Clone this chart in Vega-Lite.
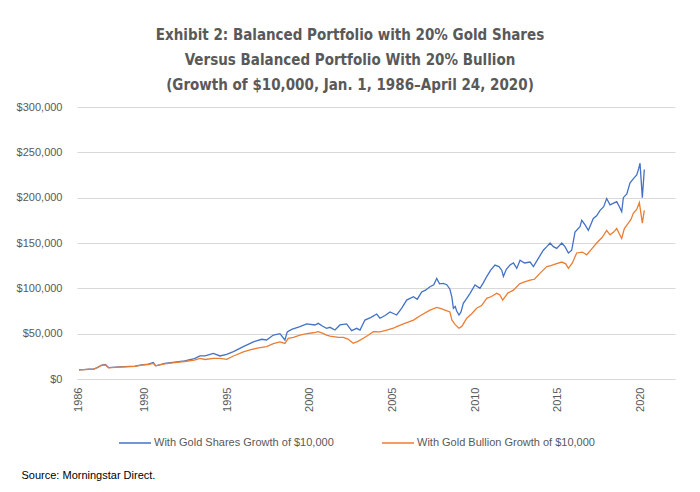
{
  "$schema": "https://vega.github.io/schema/vega-lite/v6.json",
  "width": 598,
  "height": 272,
  "autosize": {"type": "none"},
  "padding": {"left": 77, "top": 107, "right": 25, "bottom": 113},
  "background": "white",
  "config": {"view": {"stroke": null}},
  "title": {
    "text": ["Exhibit 2: Balanced Portfolio with 20% Gold Shares", "Versus Balanced Portfolio With 20% Bullion", "(Growth of $10,000, Jan. 1, 1986–April 24, 2020)"],
    "anchor": "middle",
    "frame": "group",
    "dx": -26,
    "font": "Liberation Sans Narrow, DejaVu Sans Condensed, sans-serif",
    "fontWeight": "bold",
    "fontSize": 15,
    "color": "#595959",
    "lineHeight": 25,
    "offset": 8
  },
  "data": {
    "values": [
      {"t": 1986.0, "s": "G1", "v": 10000},
      {"t": 1986.3, "s": "G1", "v": 10400},
      {"t": 1986.6, "s": "G1", "v": 10900},
      {"t": 1986.9, "s": "G1", "v": 11000},
      {"t": 1987.1, "s": "G1", "v": 12600},
      {"t": 1987.38, "s": "G1", "v": 15400},
      {"t": 1987.6, "s": "G1", "v": 16000},
      {"t": 1987.8, "s": "G1", "v": 12500},
      {"t": 1988.2, "s": "G1", "v": 13000},
      {"t": 1988.8, "s": "G1", "v": 13600},
      {"t": 1989.4, "s": "G1", "v": 14300},
      {"t": 1989.8, "s": "G1", "v": 15600},
      {"t": 1990.2, "s": "G1", "v": 16500},
      {"t": 1990.5, "s": "G1", "v": 18300},
      {"t": 1990.65, "s": "G1", "v": 14600},
      {"t": 1991.2, "s": "G1", "v": 17200},
      {"t": 1991.8, "s": "G1", "v": 18600},
      {"t": 1992.4, "s": "G1", "v": 20000},
      {"t": 1993.0, "s": "G1", "v": 22600},
      {"t": 1993.33, "s": "G1", "v": 25400},
      {"t": 1993.64, "s": "G1", "v": 25500},
      {"t": 1994.14, "s": "G1", "v": 28300},
      {"t": 1994.55, "s": "G1", "v": 25400},
      {"t": 1994.95, "s": "G1", "v": 27200},
      {"t": 1995.36, "s": "G1", "v": 30200},
      {"t": 1995.96, "s": "G1", "v": 35700},
      {"t": 1996.57, "s": "G1", "v": 41000},
      {"t": 1997.07, "s": "G1", "v": 43800},
      {"t": 1997.37, "s": "G1", "v": 43000},
      {"t": 1997.78, "s": "G1", "v": 48500},
      {"t": 1998.18, "s": "G1", "v": 50000},
      {"t": 1998.48, "s": "G1", "v": 43000},
      {"t": 1998.62, "s": "G1", "v": 52000},
      {"t": 1998.89, "s": "G1", "v": 54800},
      {"t": 1999.39, "s": "G1", "v": 57700},
      {"t": 1999.8, "s": "G1", "v": 60700},
      {"t": 2000.3, "s": "G1", "v": 59600},
      {"t": 2000.5, "s": "G1", "v": 61400},
      {"t": 2000.75, "s": "G1", "v": 58500},
      {"t": 2001.0, "s": "G1", "v": 55900},
      {"t": 2001.21, "s": "G1", "v": 57000},
      {"t": 2001.51, "s": "G1", "v": 54000},
      {"t": 2001.82, "s": "G1", "v": 59600},
      {"t": 2002.22, "s": "G1", "v": 60700},
      {"t": 2002.52, "s": "G1", "v": 53300},
      {"t": 2002.83, "s": "G1", "v": 55900},
      {"t": 2003.03, "s": "G1", "v": 54000},
      {"t": 2003.33, "s": "G1", "v": 65000},
      {"t": 2003.7, "s": "G1", "v": 68000},
      {"t": 2004.04, "s": "G1", "v": 71700},
      {"t": 2004.24, "s": "G1", "v": 67000},
      {"t": 2004.55, "s": "G1", "v": 70000},
      {"t": 2004.85, "s": "G1", "v": 74000},
      {"t": 2005.25, "s": "G1", "v": 70600},
      {"t": 2005.55, "s": "G1", "v": 78000},
      {"t": 2005.86, "s": "G1", "v": 87000},
      {"t": 2006.27, "s": "G1", "v": 90800},
      {"t": 2006.5, "s": "G1", "v": 88000},
      {"t": 2006.77, "s": "G1", "v": 96000},
      {"t": 2007.0, "s": "G1", "v": 98000},
      {"t": 2007.27, "s": "G1", "v": 101800},
      {"t": 2007.5, "s": "G1", "v": 104000},
      {"t": 2007.68, "s": "G1", "v": 111000},
      {"t": 2007.85, "s": "G1", "v": 105000},
      {"t": 2008.08, "s": "G1", "v": 105500},
      {"t": 2008.29, "s": "G1", "v": 104000},
      {"t": 2008.48, "s": "G1", "v": 99000},
      {"t": 2008.6, "s": "G1", "v": 90000},
      {"t": 2008.69, "s": "G1", "v": 78000},
      {"t": 2008.8, "s": "G1", "v": 80000},
      {"t": 2008.89, "s": "G1", "v": 75000},
      {"t": 2009.03, "s": "G1", "v": 70600},
      {"t": 2009.15, "s": "G1", "v": 74000},
      {"t": 2009.29, "s": "G1", "v": 83500},
      {"t": 2009.5, "s": "G1", "v": 89000},
      {"t": 2009.7, "s": "G1", "v": 94500},
      {"t": 2010.0, "s": "G1", "v": 103700},
      {"t": 2010.3, "s": "G1", "v": 100000},
      {"t": 2010.5, "s": "G1", "v": 106000},
      {"t": 2010.71, "s": "G1", "v": 113000},
      {"t": 2010.95, "s": "G1", "v": 120000},
      {"t": 2011.21, "s": "G1", "v": 125700},
      {"t": 2011.45, "s": "G1", "v": 124000},
      {"t": 2011.62, "s": "G1", "v": 120000},
      {"t": 2011.72, "s": "G1", "v": 113000},
      {"t": 2011.9, "s": "G1", "v": 121000},
      {"t": 2012.12, "s": "G1", "v": 125700},
      {"t": 2012.33, "s": "G1", "v": 128000},
      {"t": 2012.53, "s": "G1", "v": 122000},
      {"t": 2012.73, "s": "G1", "v": 131000},
      {"t": 2013.0, "s": "G1", "v": 128000},
      {"t": 2013.34, "s": "G1", "v": 129000},
      {"t": 2013.54, "s": "G1", "v": 124000},
      {"t": 2013.8, "s": "G1", "v": 132000},
      {"t": 2014.14, "s": "G1", "v": 142000},
      {"t": 2014.35, "s": "G1", "v": 146000},
      {"t": 2014.55, "s": "G1", "v": 150000},
      {"t": 2014.75, "s": "G1", "v": 146000},
      {"t": 2014.95, "s": "G1", "v": 144000},
      {"t": 2015.26, "s": "G1", "v": 150000},
      {"t": 2015.45, "s": "G1", "v": 146000},
      {"t": 2015.66, "s": "G1", "v": 139000},
      {"t": 2015.86, "s": "G1", "v": 142000},
      {"t": 2016.06, "s": "G1", "v": 162000},
      {"t": 2016.36, "s": "G1", "v": 168000},
      {"t": 2016.47, "s": "G1", "v": 175000},
      {"t": 2016.67, "s": "G1", "v": 170000},
      {"t": 2016.87, "s": "G1", "v": 164000},
      {"t": 2017.17, "s": "G1", "v": 177000},
      {"t": 2017.37, "s": "G1", "v": 180000},
      {"t": 2017.58, "s": "G1", "v": 186000},
      {"t": 2017.8, "s": "G1", "v": 190000},
      {"t": 2017.98, "s": "G1", "v": 199000},
      {"t": 2018.18, "s": "G1", "v": 192000},
      {"t": 2018.4, "s": "G1", "v": 194000},
      {"t": 2018.59, "s": "G1", "v": 195600},
      {"t": 2018.75, "s": "G1", "v": 190000},
      {"t": 2018.89, "s": "G1", "v": 184500},
      {"t": 2018.99, "s": "G1", "v": 200000},
      {"t": 2019.2, "s": "G1", "v": 204000},
      {"t": 2019.39, "s": "G1", "v": 216000},
      {"t": 2019.6, "s": "G1", "v": 221000},
      {"t": 2019.8, "s": "G1", "v": 225000},
      {"t": 2019.92, "s": "G1", "v": 232000},
      {"t": 2020.0, "s": "G1", "v": 238000},
      {"t": 2020.14, "s": "G1", "v": 200000},
      {"t": 2020.26, "s": "G1", "v": 231000},
      {"t": 1986.0, "s": "G2", "v": 10000},
      {"t": 1986.3, "s": "G2", "v": 10300},
      {"t": 1986.6, "s": "G2", "v": 10700},
      {"t": 1986.9, "s": "G2", "v": 10900},
      {"t": 1987.1, "s": "G2", "v": 12400},
      {"t": 1987.38, "s": "G2", "v": 15000},
      {"t": 1987.6, "s": "G2", "v": 15600},
      {"t": 1987.8, "s": "G2", "v": 12300},
      {"t": 1988.2, "s": "G2", "v": 12800},
      {"t": 1988.8, "s": "G2", "v": 13400},
      {"t": 1989.4, "s": "G2", "v": 14000},
      {"t": 1989.8, "s": "G2", "v": 15200},
      {"t": 1990.2, "s": "G2", "v": 16000},
      {"t": 1990.5, "s": "G2", "v": 17200},
      {"t": 1990.65, "s": "G2", "v": 14500},
      {"t": 1991.2, "s": "G2", "v": 16600},
      {"t": 1991.8, "s": "G2", "v": 18000},
      {"t": 1992.4, "s": "G2", "v": 19300},
      {"t": 1993.0, "s": "G2", "v": 20800},
      {"t": 1993.33, "s": "G2", "v": 22800},
      {"t": 1993.64, "s": "G2", "v": 21500},
      {"t": 1994.14, "s": "G2", "v": 22800},
      {"t": 1994.55, "s": "G2", "v": 22800},
      {"t": 1994.95, "s": "G2", "v": 21700},
      {"t": 1995.36, "s": "G2", "v": 25400},
      {"t": 1995.96, "s": "G2", "v": 30000},
      {"t": 1996.37, "s": "G2", "v": 32000},
      {"t": 1996.8, "s": "G2", "v": 34000},
      {"t": 1997.37, "s": "G2", "v": 35700},
      {"t": 1997.78, "s": "G2", "v": 39000},
      {"t": 1998.18, "s": "G2", "v": 41000},
      {"t": 1998.48, "s": "G2", "v": 39300},
      {"t": 1998.68, "s": "G2", "v": 44900},
      {"t": 1999.0, "s": "G2", "v": 46000},
      {"t": 1999.39, "s": "G2", "v": 48500},
      {"t": 1999.8, "s": "G2", "v": 50000},
      {"t": 2000.2, "s": "G2", "v": 51000},
      {"t": 2000.5, "s": "G2", "v": 52200},
      {"t": 2000.75, "s": "G2", "v": 50500},
      {"t": 2001.0, "s": "G2", "v": 48500},
      {"t": 2001.21, "s": "G2", "v": 47400},
      {"t": 2001.72, "s": "G2", "v": 46000},
      {"t": 2002.02, "s": "G2", "v": 46000},
      {"t": 2002.3, "s": "G2", "v": 44000},
      {"t": 2002.62, "s": "G2", "v": 39400},
      {"t": 2002.9, "s": "G2", "v": 41500},
      {"t": 2003.23, "s": "G2", "v": 44900},
      {"t": 2003.5, "s": "G2", "v": 48000},
      {"t": 2003.84, "s": "G2", "v": 52200},
      {"t": 2004.24, "s": "G2", "v": 52000},
      {"t": 2004.65, "s": "G2", "v": 54000},
      {"t": 2005.05, "s": "G2", "v": 56000},
      {"t": 2005.25, "s": "G2", "v": 57700},
      {"t": 2005.7, "s": "G2", "v": 61000},
      {"t": 2006.27, "s": "G2", "v": 65000},
      {"t": 2006.7, "s": "G2", "v": 70000},
      {"t": 2007.27, "s": "G2", "v": 76000},
      {"t": 2007.68, "s": "G2", "v": 79000},
      {"t": 2007.95, "s": "G2", "v": 77500},
      {"t": 2008.18, "s": "G2", "v": 76000},
      {"t": 2008.48, "s": "G2", "v": 74000},
      {"t": 2008.6, "s": "G2", "v": 65000},
      {"t": 2008.8, "s": "G2", "v": 60000},
      {"t": 2009.03, "s": "G2", "v": 56000},
      {"t": 2009.2, "s": "G2", "v": 58000},
      {"t": 2009.5, "s": "G2", "v": 67000},
      {"t": 2009.8, "s": "G2", "v": 72000},
      {"t": 2010.1, "s": "G2", "v": 78000},
      {"t": 2010.4, "s": "G2", "v": 81000},
      {"t": 2010.71, "s": "G2", "v": 89000},
      {"t": 2011.0, "s": "G2", "v": 91000},
      {"t": 2011.31, "s": "G2", "v": 94500},
      {"t": 2011.5, "s": "G2", "v": 93000},
      {"t": 2011.68, "s": "G2", "v": 87000},
      {"t": 2012.0, "s": "G2", "v": 95000},
      {"t": 2012.33, "s": "G2", "v": 98000},
      {"t": 2012.7, "s": "G2", "v": 105000},
      {"t": 2013.0, "s": "G2", "v": 107000},
      {"t": 2013.34, "s": "G2", "v": 109000},
      {"t": 2013.6, "s": "G2", "v": 110000},
      {"t": 2013.9, "s": "G2", "v": 116000},
      {"t": 2014.35, "s": "G2", "v": 124000},
      {"t": 2014.6, "s": "G2", "v": 125000},
      {"t": 2014.9, "s": "G2", "v": 127000},
      {"t": 2015.26, "s": "G2", "v": 129000},
      {"t": 2015.5, "s": "G2", "v": 127000},
      {"t": 2015.66, "s": "G2", "v": 122000},
      {"t": 2015.9, "s": "G2", "v": 128000},
      {"t": 2016.16, "s": "G2", "v": 139000},
      {"t": 2016.5, "s": "G2", "v": 140000},
      {"t": 2016.77, "s": "G2", "v": 137000},
      {"t": 2017.05, "s": "G2", "v": 143000},
      {"t": 2017.37, "s": "G2", "v": 150000},
      {"t": 2017.7, "s": "G2", "v": 156000},
      {"t": 2017.98, "s": "G2", "v": 164000},
      {"t": 2018.18, "s": "G2", "v": 159000},
      {"t": 2018.4, "s": "G2", "v": 162000},
      {"t": 2018.59, "s": "G2", "v": 166000},
      {"t": 2018.75, "s": "G2", "v": 160000},
      {"t": 2018.89, "s": "G2", "v": 155000},
      {"t": 2019.05, "s": "G2", "v": 166000},
      {"t": 2019.29, "s": "G2", "v": 172000},
      {"t": 2019.45, "s": "G2", "v": 176000},
      {"t": 2019.6, "s": "G2", "v": 183000},
      {"t": 2019.8, "s": "G2", "v": 187000},
      {"t": 2019.96, "s": "G2", "v": 194500},
      {"t": 2020.14, "s": "G2", "v": 172000},
      {"t": 2020.26, "s": "G2", "v": 186000}
    ]
  },
  "mark": {"type": "line", "strokeWidth": 1.3},
  "encoding": {
    "x": {
      "field": "t",
      "type": "quantitative",
      "scale": {"domain": [1985.88, 2022.12], "nice": false, "zero": false},
      "axis": {
        "values": [1986, 1990, 1995, 2000, 2005, 2010, 2015, 2020],
        "format": "d",
        "labelAngle": -90,
        "labelFont": "Liberation Sans, Arial, sans-serif",
        "labelFontSize": 11,
        "labelColor": "#595959",
        "labelPadding": 8,
        "grid": false,
        "ticks": false,
        "domain": true,
        "domainColor": "#D9D9D9",
        "domainWidth": 1,
        "title": "Source: Morningstar Direct.",
        "titleFont": "Liberation Sans, Arial, sans-serif",
        "titleFontSize": 11,
        "titleFontWeight": "normal",
        "titleColor": "#000000",
        "titleAnchor": "start",
        "titleAlign": "left",
        "titleBaseline": "alphabetic",
        "titleX": -56,
        "titleY": 99
      }
    },
    "y": {
      "field": "v",
      "type": "quantitative",
      "scale": {"domain": [0, 300000], "nice": false},
      "axis": {
        "values": [0, 50000, 100000, 150000, 200000, 250000, 300000],
        "format": "$,d",
        "labelFont": "Liberation Sans, Arial, sans-serif",
        "labelFontSize": 11,
        "labelColor": "#595959",
        "labelPadding": 15,
        "grid": true,
        "gridColor": "#D9D9D9",
        "gridWidth": 1,
        "domain": false,
        "ticks": false,
        "title": null
      }
    },
    "color": {
      "field": "s",
      "type": "nominal",
      "scale": {"domain": ["G1", "G2"], "range": ["#4472C4", "#ED7D31"]},
      "legend": {
        "orient": "none",
        "direction": "horizontal",
        "legendX": 41,
        "legendY": 319,
        "padding": 0,
        "title": null,
        "symbolType": "stroke",
        "symbolSize": 1024,
        "symbolStrokeWidth": 1.5,
        "labelOffset": 2,
        "columnPadding": 45,
        "labelFont": "Liberation Sans, Arial, sans-serif",
        "labelFontSize": 11,
        "labelColor": "#595959",
        "labelLimit": 300,
        "labelExpr": "datum.label == 'G1' ? 'With Gold Shares Growth of $10,000' : 'With Gold Bullion Growth of $10,000'"
      }
    }
  }
}
